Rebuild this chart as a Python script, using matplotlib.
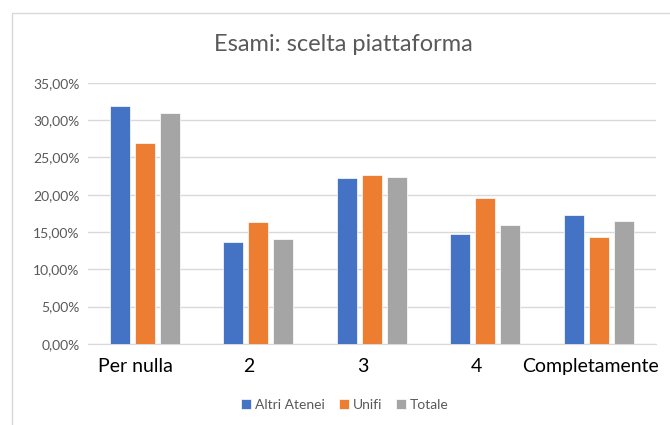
import matplotlib.pyplot as plt
import matplotlib.transforms as mtransforms
from matplotlib.patches import Rectangle
from matplotlib.ticker import FuncFormatter
import numpy as np

plt.rcParams['font.family'] = ['Lato', 'DejaVu Sans']

categories = ["Per nulla", "2", "3", "4", "Completamente"]
altri_atenei = [31.85, 13.6, 22.2, 14.7, 17.3]
unifi = [26.9, 16.4, 22.7, 19.6, 14.3]
totale = [30.9, 14.1, 22.35, 15.9, 16.5]

series = [("Altri Atenei", altri_atenei, "#4472C4"),
          ("Unifi", unifi, "#ED7D31"),
          ("Totale", totale, "#A5A5A5")]

fig = plt.figure(figsize=(6.7, 4.25), dpi=100)
ax = fig.add_axes([0.131, 0.191, 0.848, 0.614])

# chart border like excel
fig.patches.append(Rectangle((12 / 670, -0.05), 1.1, 1 - 13 / 425 + 0.05,
                             transform=fig.transFigure, fill=False,
                             edgecolor="#D9D9D9", linewidth=1))

x = np.arange(len(categories))
w = 0.176
step = 0.22
for i, (name, vals, col) in enumerate(series):
    ax.bar(x + (i - 1) * step, vals, width=w, color=col, label=name,
           edgecolor="white", linewidth=0.5, zorder=3)

ax.set_xlim(-0.5, len(categories) - 0.5)
ax.set_ylim(0, 35)
ax.set_yticks(np.arange(0, 36, 5))
ax.yaxis.set_major_formatter(FuncFormatter(lambda v, p: f"{v:.2f}%".replace(".", ",")))
ax.grid(axis="y", color="#D9D9D9", linewidth=1, zorder=0)
for s in ["top", "right", "left"]:
    ax.spines[s].set_visible(False)
ax.spines["bottom"].set_color("#D9D9D9")
ax.tick_params(axis="both", length=0)
ax.tick_params(axis="y", labelsize=10, labelcolor="#595959", pad=6)
ax.set_xticks(x)
ax.set_xticklabels(categories, fontsize=14, color="black")
ax.tick_params(axis="x", pad=10)
offset = mtransforms.ScaledTranslation(-9 / 100, 0, fig.dpi_scale_trans)
for lab in ax.get_xticklabels():
    lab.set_transform(lab.get_transform() + offset)

fig.text(0.512, 0.895, "Esami: scelta piattaforma", ha="center", va="center",
         fontsize=17, color="#595959")

leg = fig.legend(loc="center", bbox_to_anchor=(0.515, 0.047), ncol=3, frameon=False,
                 fontsize=10, handlelength=0.7, handleheight=0.7, handletextpad=0.3,
                 columnspacing=1.0)
for t in leg.get_texts():
    t.set_color("#595959")

fig.savefig("out.png", dpi=100)
